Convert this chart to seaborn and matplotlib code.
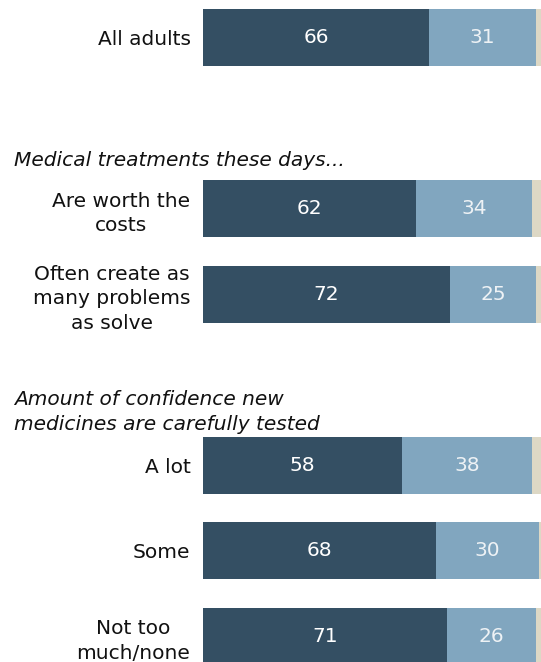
import numpy as np
import pandas as pd
import matplotlib
matplotlib.use("Agg")
import matplotlib.pyplot as plt
import seaborn as sns

# data
labels = ["All adults", "Are worth the\ncosts", "Often create as\nmany problems\nas solve",
          "A lot", "Some", "Not too\nmuch/none"]
favorable = [66, 62, 72, 58, 68, 71]
unfavorable = [31, 34, 25, 38, 30, 26]
headers = ["Medical treatments these days...",
           "Amount of confidence new\nmedicines are carefully tested"]

# layout: row slots (gaps hold the section headers)
rows = [0, 2, 3, 5, 6, 7]

dark = "#344f63"
light = "#81a6bf"
beige = "#ddd8c5"
fs = 14.5

df = pd.DataFrame({"label": labels, "row": rows, "fav": favorable, "unfav": unfavorable})
df["fav_unfav"] = df["fav"] + df["unfav"]
df["total"] = 100

sns.set_theme(style="white")
plt.rcParams["font.family"] = ["DejaVu Sans"]

fig = plt.figure(figsize=(5.41, 6.62), dpi=100)
ax = fig.add_axes([203 / 541, 0, 343 / 541, 1])

for col, color in [("total", beige), ("fav_unfav", light), ("fav", dark)]:
    sns.barplot(data=df, x=col, y="row", orient="y", native_scale=True,
                color=color, width=0.666, saturation=1, ax=ax, linewidth=0)

ax.set_xlim(0, 100)
ax.set_ylim(7.298, -0.438)
ax.set_yticks(rows)
ax.set_yticklabels(labels, multialignment="center", fontsize=fs, color="#111111",
                   linespacing=1.35)
ax.tick_params(axis="y", length=0, pad=9)
ax.set_xticks([])
ax.set_xlabel("")
ax.set_ylabel("")
sns.despine(ax=ax, left=True, bottom=True)

for _, r in df.iterrows():
    ax.text(r["fav"] / 2, r["row"], str(r["fav"]), ha="center", va="center",
            color="white", fontsize=fs)
    ax.text(r["fav"] + r["unfav"] / 2, r["row"], str(r["unfav"]), ha="center",
            va="center", color="#eef2f5", fontsize=fs)

fig.text(14 / 541, 1 - 161 / 662, headers[0], style="italic", fontsize=fs,
         ha="left", va="center", color="#111111")
fig.text(14 / 541, 1 - 412 / 662, headers[1], style="italic", fontsize=fs,
         ha="left", va="center", color="#111111", linespacing=1.4)

fig.savefig("out.png", dpi=100)
